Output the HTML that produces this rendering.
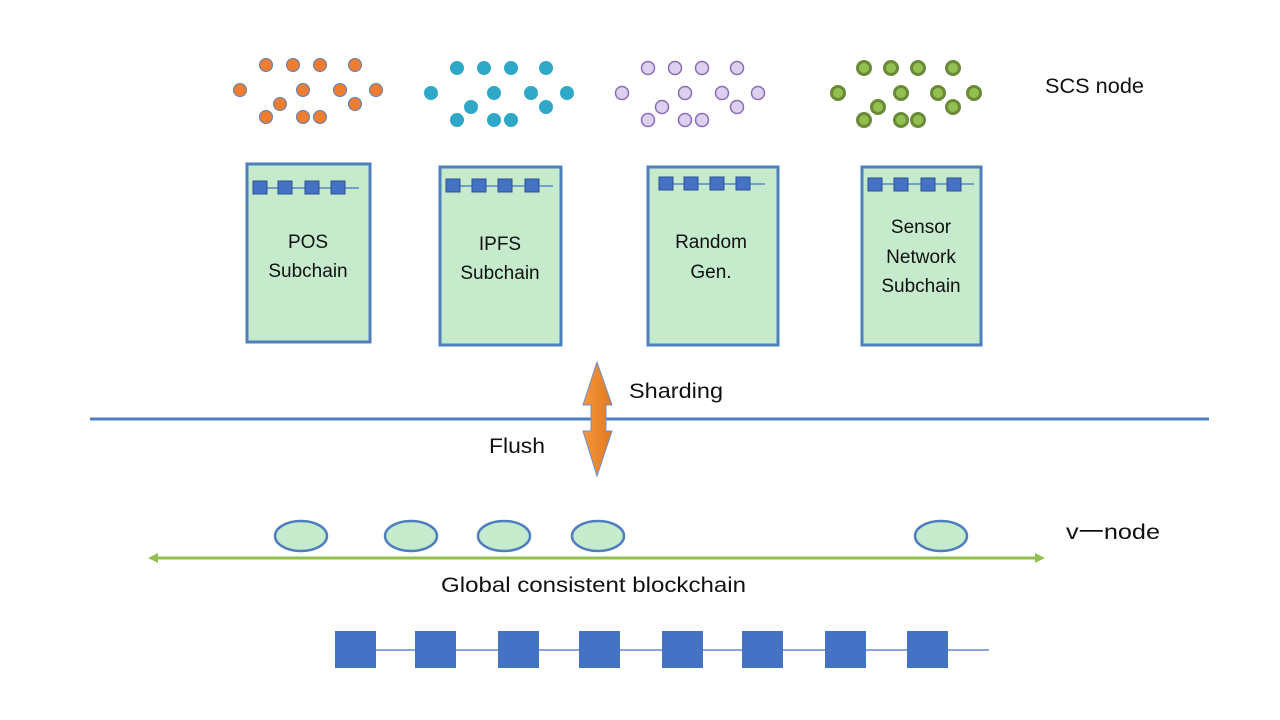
<!DOCTYPE html>
<html><head><meta charset="utf-8"><style>
html,body{margin:0;padding:0;background:#fff;}
svg{display:block;}
text{font-family:"Liberation Sans","Noto Sans CJK SC",sans-serif;fill:#111;}
</style></head><body>
<svg width="1280" height="720" viewBox="0 0 1280 720" xmlns="http://www.w3.org/2000/svg">
<defs>
<g id="cl">
<circle cx="266" cy="65" r="6.5"/><circle cx="293" cy="65" r="6.5"/><circle cx="320" cy="65" r="6.5"/><circle cx="355" cy="65" r="6.5"/>
<circle cx="240" cy="90" r="6.5"/><circle cx="303" cy="90" r="6.5"/><circle cx="340" cy="90" r="6.5"/><circle cx="376" cy="90" r="6.5"/>
<circle cx="280" cy="104" r="6.5"/><circle cx="355" cy="104" r="6.5"/>
<circle cx="266" cy="117" r="6.5"/><circle cx="303" cy="117" r="6.5"/><circle cx="320" cy="117" r="6.5"/>
</g>
<linearGradient id="og" x1="0" x2="1" y1="0" y2="0"><stop offset="0" stop-color="#f7963a"/><stop offset="1" stop-color="#e07a20"/></linearGradient>
</defs>
<use href="#cl" fill="#ed7d31" stroke="#5b7fc0" stroke-width="1"/>
<use href="#cl" transform="translate(191,3)" fill="#2fa8c8" stroke="#2fa8c8" stroke-width="1"/>
<use href="#cl" transform="translate(382,3)" fill="#ddd0ee" stroke="#8a6bb8" stroke-width="1.5"/>
<use href="#cl" transform="translate(598,3)" fill="#92c050" stroke="#6a8a38" stroke-width="3"/>
<text x="1045" y="93" font-size="21" textLength="99" lengthAdjust="spacingAndGlyphs">SCS node</text>

<g stroke="#4f7fbf" stroke-width="3" fill="#c6ebcc">
<rect x="247" y="164" width="123" height="178"/>
<rect x="440" y="167" width="121" height="178"/>
<rect x="648" y="167" width="130" height="178"/>
<rect x="862" y="167" width="119" height="178"/>
</g>
<g stroke="#4472c4" stroke-width="1.2">
<line x1="253" y1="188" x2="359" y2="188"/>
<line x1="446" y1="186" x2="553" y2="186"/>
<line x1="659" y1="184" x2="765" y2="184"/>
<line x1="868" y1="184" x2="974" y2="184"/>
</g>
<g fill="#4472c4" stroke="#2f528f" stroke-width="1">
<rect x="253" y="181" width="14" height="13"/><rect x="278" y="181" width="14" height="13"/><rect x="305" y="181" width="14" height="13"/><rect x="331" y="181" width="14" height="13"/>
<rect x="446" y="179" width="14" height="13"/><rect x="472" y="179" width="14" height="13"/><rect x="498" y="179" width="14" height="13"/><rect x="525" y="179" width="14" height="13"/>
<rect x="659" y="177" width="14" height="13"/><rect x="684" y="177" width="14" height="13"/><rect x="710" y="177" width="14" height="13"/><rect x="736" y="177" width="14" height="13"/>
<rect x="868" y="178" width="14" height="13"/><rect x="894" y="178" width="14" height="13"/><rect x="921" y="178" width="14" height="13"/><rect x="947" y="178" width="14" height="13"/>
</g>
<g font-size="19" text-anchor="middle">
<text x="308" y="248">POS</text><text x="308" y="277">Subchain</text>
<text x="500" y="250">IPFS</text><text x="500" y="279">Subchain</text>
<text x="711" y="248">Random</text><text x="711" y="278">Gen.</text>
<text x="921" y="233">Sensor</text><text x="921" y="263">Network</text><text x="921" y="292">Subchain</text>
</g>

<line x1="90" y1="419" x2="1209" y2="419" stroke="#4f7fbf" stroke-width="3"/>
<path d="M597,362 L612,405 L606,405 L606,431 L612,431 L597,476 L583,431 L591,431 L591,405 L583,405 Z" fill="url(#og)" stroke="#6a8fd0" stroke-width="1"/>
<text x="629" y="398" font-size="21" textLength="94" lengthAdjust="spacingAndGlyphs">Sharding</text>
<text x="489" y="453" font-size="21" textLength="56" lengthAdjust="spacingAndGlyphs">Flush</text>

<g fill="#c6ebcc" stroke="#4f7fbf" stroke-width="2.5">
<ellipse cx="301" cy="536" rx="26" ry="15"/>
<ellipse cx="411" cy="536" rx="26" ry="15"/>
<ellipse cx="504" cy="536" rx="26" ry="15"/>
<ellipse cx="598" cy="536" rx="26" ry="15"/>
<ellipse cx="941" cy="536" rx="26" ry="15"/>
</g>
<line x1="156" y1="558" x2="1037" y2="558" stroke="#92c050" stroke-width="3"/>
<path d="M148,558 L158,553 L158,563 Z" fill="#92c050"/>
<path d="M1045,558 L1035,553 L1035,563 Z" fill="#92c050"/>
<text x="1066" y="539" font-size="21" textLength="94" lengthAdjust="spacingAndGlyphs">v一node</text>
<text x="441" y="592" font-size="21" textLength="305" lengthAdjust="spacingAndGlyphs">Global consistent blockchain</text>

<line x1="356" y1="650" x2="989" y2="650" stroke="#4472c4" stroke-width="1.2"/>
<g fill="#4472c4">
<rect x="335" y="631" width="41" height="37"/><rect x="415" y="631" width="41" height="37"/><rect x="498" y="631" width="41" height="37"/><rect x="579" y="631" width="41" height="37"/>
<rect x="662" y="631" width="41" height="37"/><rect x="742" y="631" width="41" height="37"/><rect x="825" y="631" width="41" height="37"/><rect x="907" y="631" width="41" height="37"/>
</g>
</svg>
</body></html>
